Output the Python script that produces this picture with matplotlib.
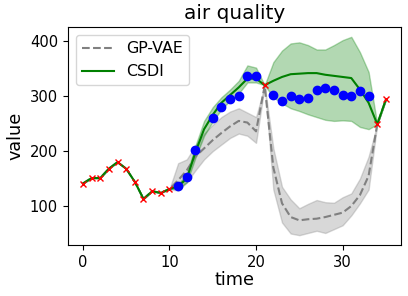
import numpy as np
import matplotlib
matplotlib.use('Agg')
import matplotlib.pyplot as plt

t = np.arange(36)

# observed (red x) and hidden ground truth (blue dots)
obs_t = [0, 1, 2, 3, 4, 5, 6, 7, 8, 9, 10, 21, 34, 35]
obs_v = [141, 151, 151, 168, 180, 168, 144, 113, 127, 124, 131, 320, 249, 294]
gt_t = [11, 12, 13, 15, 16, 17, 18, 19, 20, 22, 23, 24, 25, 26, 27, 28, 29, 30, 31, 32, 33]
gt_v = [137, 153, 202, 261, 281, 294, 301, 336, 336, 303, 292, 300, 294, 296, 311, 314, 312, 303, 300, 309, 300]

head = [141, 151, 151, 168, 180, 168, 144, 113, 127, 124, 131]

# GP-VAE median and band
gp_med = head + [147, 165, 190, 205, 220, 233, 245, 255, 252, 236, 319,
                 170, 105, 80, 74, 76, 77, 80, 84, 88, 100, 120, 155, 249, 294]
gp_up = head + [178, 185, 210, 232, 248, 262, 272, 278, 270, 262, 319,
                205, 135, 112, 96, 104, 111, 107, 106, 116, 123, 150, 190, 249, 294]
gp_lo = head + [128, 143, 165, 185, 200, 212, 224, 232, 228, 215, 319,
                130, 70, 50, 47, 51, 55, 51, 58, 65, 83, 105, 130, 249, 294]

# CSDI median and band
cs_med = head + [136, 150, 198, 240, 266, 288, 302, 316, 332, 332, 320,
                 328, 335, 340, 341, 342, 342, 339, 337, 335, 333, 312, 288, 249, 294]
cs_up = head + [140, 158, 210, 255, 280, 298, 312, 328, 356, 352, 320,
                362, 383, 396, 398, 393, 385, 385, 393, 402, 408, 380, 344, 249, 294]
cs_lo = head + [132, 143, 188, 228, 254, 276, 292, 305, 325, 325, 320,
                298, 287, 278, 273, 267, 262, 257, 255, 256, 255, 244, 240, 249, 294]

fig = plt.figure(figsize=(4.08, 2.96), dpi=100)
ax = fig.add_axes([0.166, 0.172, 0.817, 0.737])

ax.fill_between(t, gp_lo, gp_up, color='gray', alpha=0.3)
ax.plot(t, gp_med, color='gray', linestyle='--', linewidth=1.5, label='GP-VAE')
ax.fill_between(t, cs_lo, cs_up, color='g', alpha=0.3)
ax.plot(t, cs_med, color='g', linewidth=1.5, label='CSDI')
ax.plot(gt_t, gt_v, 'bo', markersize=6)
ax.plot(obs_t, obs_v, 'rx', markersize=5)

ax.set_title('air quality', fontsize=14.4)
ax.set_xlabel('time', fontsize=12.7, labelpad=1)
ax.set_ylabel('value', fontsize=12.7)
ax.set_yticks([100, 200, 300, 400])
ax.set_xticks([0, 10, 20, 30])
ax.tick_params(labelsize=10.6)
ax.legend(loc='upper left', fontsize=11.4)

plt.savefig('out.png', dpi=100)
